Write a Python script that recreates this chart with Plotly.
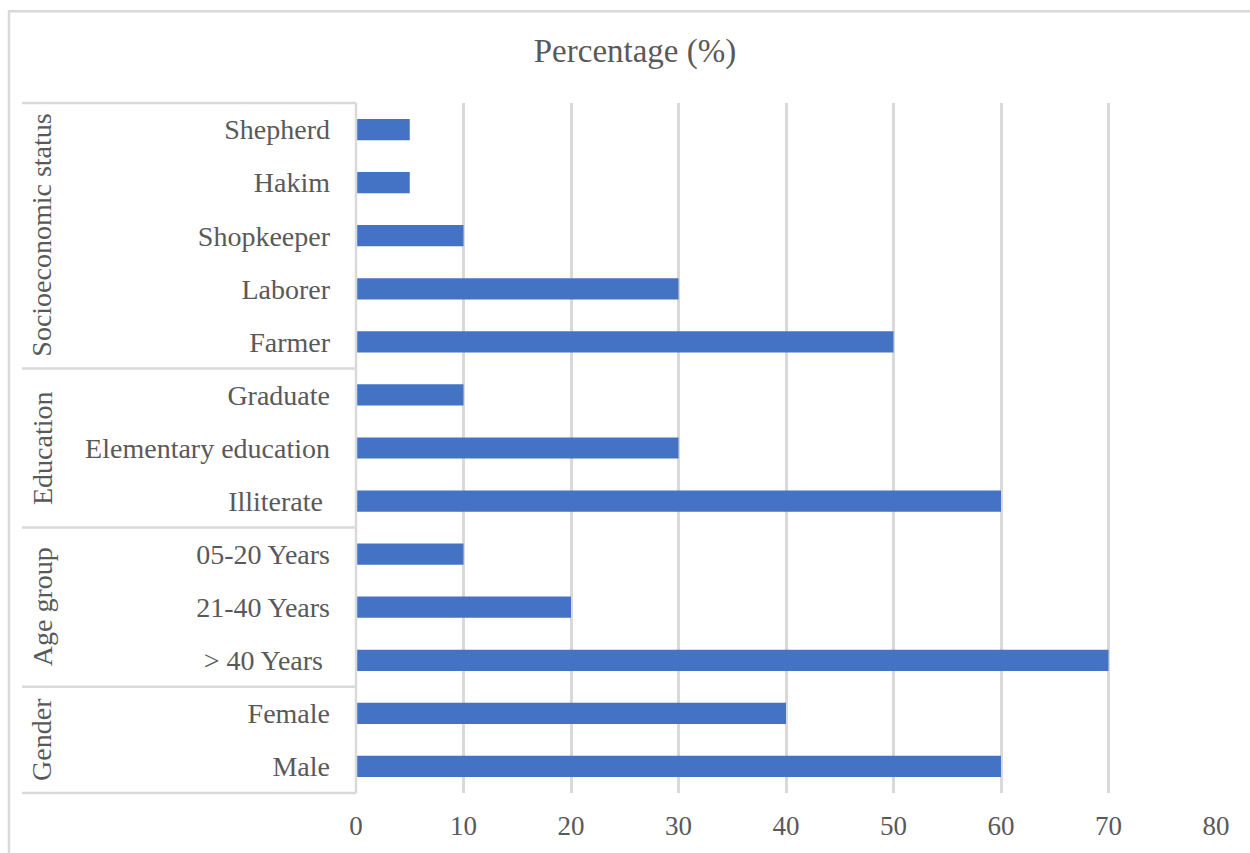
import plotly.graph_objects as go

categories = ["Shepherd", "Hakim", "Shopkeeper", "Laborer", "Farmer",
              "Graduate", "Elementary education", "Illiterate\u00a0",
              "05-20 Years", "21-40 Years", "> 40 Years\u00a0",
              "Female", "Male"]
values = [5, 5, 10, 30, 50, 10, 30, 60, 10, 20, 70, 40, 60]
groups = ["Socioeconomic status", "Education", "Age group", "Gender"]
group_sizes = [5, 3, 3, 2]
tick_vals = [0, 10, 20, 30, 40, 50, 60, 70, 80]
title_text = "Percentage (%)"

FONT = "Liberation Serif, Times New Roman, serif"
TXT = "#595959"
GRID = "#D9D9D9"
BAR = "#4472C4"

W, H = 1250, 853
L, R, T, B = 356, 1216, 103, 795
pw, ph = R - L, B - T

def px_x(p):
    return (p - L) / pw

def px_y(p):
    return (B - p) / ph

fig = go.Figure(go.Bar(
    x=values, y=categories, orientation="h",
    marker=dict(color=BAR, line=dict(width=0)), width=0.4,
))

shapes = []
# outer border
shapes.append(dict(type="rect", xref="paper", yref="paper",
                   x0=px_x(9), x1=px_x(1262), y0=px_y(11), y1=px_y(880),
                   line=dict(color=GRID, width=2.5), fillcolor="rgba(0,0,0,0)", layer="below"))
# category box top / bottom
for yp in (1, 0):
    shapes.append(dict(type="line", xref="paper", yref="paper",
                       x0=px_x(22), x1=0, y0=yp, y1=yp,
                       line=dict(color=GRID, width=2.5)))
# group separators
idx = 0
for s in group_sizes[:-1]:
    idx += s
    shapes.append(dict(type="line", xref="paper", yref="y",
                       x0=px_x(22), x1=0, y0=idx - 0.5, y1=idx - 0.5,
                       line=dict(color=GRID, width=2.5)))
# axis line at 0
shapes.append(dict(type="line", xref="paper", yref="paper",
                   x0=0, x1=0, y0=0, y1=1, line=dict(color=GRID, width=2.5)))

annotations = []
start = 0
for g, s in zip(groups, group_sizes):
    mid = start + (s - 1) / 2
    annotations.append(dict(text=g, xref="paper", yref="y", x=px_x(42), y=mid,
                            textangle=-90, showarrow=False, xanchor="center", yanchor="middle",
                            font=dict(family=FONT, size=28, color=TXT)))
    start += s

fig.update_layout(
    width=W, height=H,
    margin=dict(l=L, r=W - R, t=T, b=H - B),
    paper_bgcolor="white", plot_bgcolor="white",
    showlegend=False,
    bargap=0.6,
    title=dict(text=title_text, x=0.508, xanchor="center", y=1 - 50 / H, yanchor="middle",
               font=dict(family=FONT, size=33, color=TXT)),
    xaxis=dict(range=[0, 80], tickvals=tick_vals, showgrid=True, gridcolor=GRID, gridwidth=2.5,
               zeroline=False, showline=False, ticks="",
               tickfont=dict(family=FONT, size=27, color=TXT), ticklabelstandoff=14,
               fixedrange=True),
    yaxis=dict(categoryorder="array", categoryarray=categories, autorange="reversed",
               showgrid=False, zeroline=False, showline=False, ticks="",
               tickfont=dict(family=FONT, size=28, color=TXT), ticklabelstandoff=25),
    shapes=shapes,
    annotations=annotations,
)

fig.write_html("out.html")
